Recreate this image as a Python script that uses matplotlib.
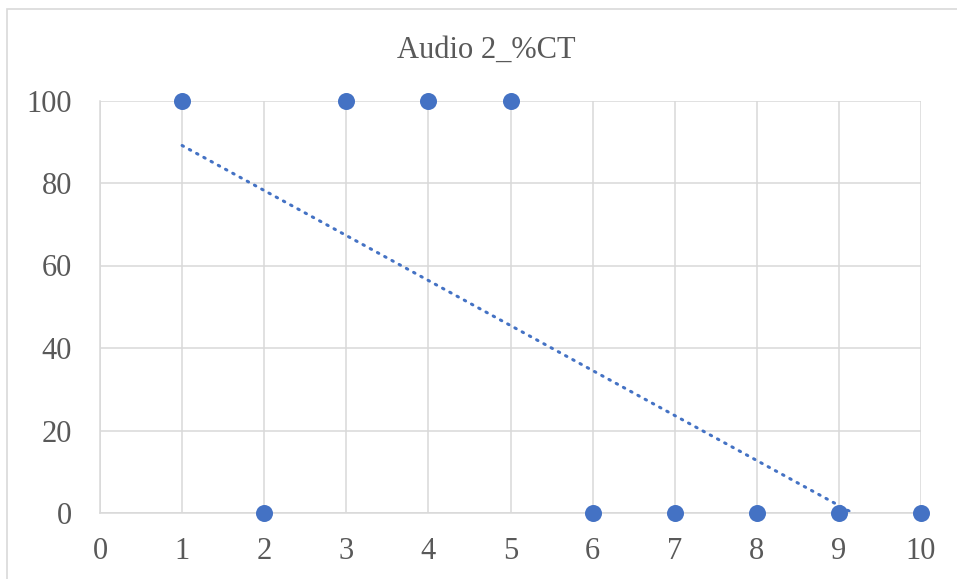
import matplotlib
matplotlib.use("Agg")
import matplotlib.pyplot as plt
import numpy as np
from matplotlib.patches import Rectangle

# data
x_vals = [1, 2, 3, 4, 5, 6, 7, 8, 9, 10]
y_vals = [100, 0, 100, 100, 100, 0, 0, 0, 0, 0]
x_ticks = [0, 1, 2, 3, 4, 5, 6, 7, 8, 9, 10]
y_ticks = [0, 20, 40, 60, 80, 100]
title = "Audio 2_%CT"

blue = "#4472C4"
grid_c = "#d9d9d9"
text_c = "#595959"

plt.rcParams["font.family"] = ["Liberation Serif", "DejaVu Serif"]

W, H = 957, 579
fig = plt.figure(figsize=(W / 100, H / 100), dpi=100)
ax = fig.add_axes([100 / W, 1 - 513 / H, (921 - 100) / W, (513 - 100.5) / H])

# chart border (cut off at right and bottom in the reference)
fig.patches.append(Rectangle((7 / W, -0.05), 1.1, 1 - 9 / H + 0.05,
                             transform=fig.transFigure, fill=False,
                             edgecolor=grid_c, linewidth=1.2))

ax.set_xlim(0, 10)
ax.set_ylim(0, 100)
ax.set_xticks(x_ticks)
ax.set_yticks(y_ticks)
ax.grid(True, color=grid_c, linewidth=1.1)
ax.set_axisbelow(True)
for side in ["top", "right"]:
    ax.spines[side].set_visible(False)
for side in ["left", "bottom"]:
    ax.spines[side].set_color(grid_c)
    ax.spines[side].set_linewidth(1.1)
ax.tick_params(length=0, labelsize=22, labelcolor=text_c)
ax.tick_params(axis="x", pad=17)
ax.tick_params(axis="y", pad=20)

# linear trendline, clipped at the axis like Excel
slope, icpt = np.polyfit(x_vals, y_vals, 1)
tx = np.array([min(x_vals), max(x_vals)])
ax.plot(tx, slope * tx + icpt, color=blue, linewidth=2.2,
        linestyle=(0, (0.5, 2.2)), dash_capstyle="round")

ax.scatter(x_vals, y_vals, s=150, color=blue, zorder=3, clip_on=False,
           linewidths=0)

fig.text(486 / W, 1 - 50 / H, title, ha="center", va="center",
         fontsize=22, color=text_c)

fig.savefig("out.png", dpi=100)
